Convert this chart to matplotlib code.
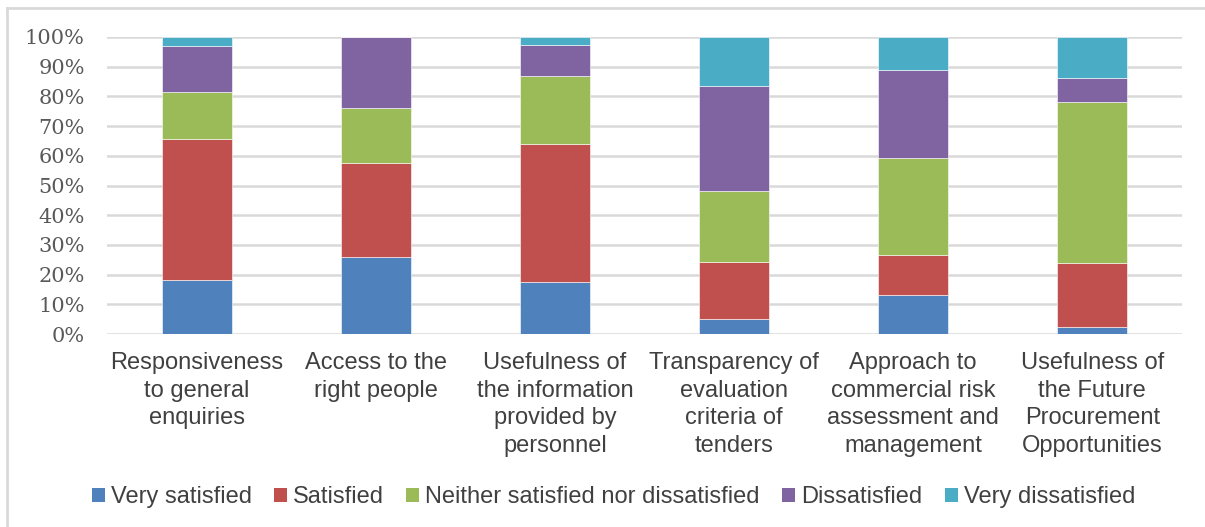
import numpy as np
import matplotlib
matplotlib.use("Agg")
import matplotlib.pyplot as plt
from matplotlib.lines import Line2D
from matplotlib.patches import Patch
from matplotlib.ticker import PercentFormatter

# Категории и доли ответов (в процентах)
categories = [
    "Responsiveness\nto general\nenquiries",
    "Access to the\nright people",
    "Usefulness of\nthe information\nprovided by\npersonnel",
    "Transparency of\nevaluation\ncriteria of\ntenders",
    "Approach to\ncommercial risk\nassessment and\nmanagement",
    "Usefulness of\nthe Future\nProcurement\nOpportunities",
]
series_names = [
    "Very satisfied",
    "Satisfied",
    "Neither satisfied nor dissatisfied",
    "Dissatisfied",
    "Very dissatisfied",
]
very_satisfied = [18.2, 26.1, 17.6, 5.0, 13.1, 2.4]
satisfied = [47.3, 31.4, 46.2, 19.2, 13.5, 21.4]
neither = [15.9, 18.7, 23.2, 24.1, 32.5, 54.3]
dissatisfied = [15.6, 23.8, 10.2, 35.2, 29.8, 8.1]
very_dissatisfied = [3.0, 0.0, 2.8, 16.5, 11.1, 13.8]

colors = ["#4F81BD", "#C0504D", "#9BBB59", "#8064A2", "#4BACC6"]
series = [very_satisfied, satisfied, neither, dissatisfied, very_dissatisfied]

fig = plt.figure(figsize=(12.05, 5.27), dpi=100)
ax = fig.add_axes([0.0888, 0.366, 0.892, 0.564])

x = np.arange(len(categories))
bottom = np.zeros(len(categories))
for name, vals, col in zip(series_names, series, colors):
    vals = np.array(vals)
    ax.bar(x, vals, 0.39, bottom=bottom, color=col, label=name,
           edgecolor="white", linewidth=0.4, zorder=3)
    bottom += vals

ax.set_xlim(-0.5, len(categories) - 0.5)
ax.set_ylim(0, 100)
ax.set_yticks(np.arange(0, 101, 10))
ax.yaxis.set_major_formatter(PercentFormatter(decimals=0))
ax.grid(axis="y", color="#d9d9d9", linewidth=1.8, zorder=0)
for s in ["top", "right", "left", "bottom"]:
    ax.spines[s].set_visible(False)
ax.tick_params(axis="both", length=0)
ax.tick_params(axis="y", pad=16, labelsize=15, labelcolor="#595959")
for lab in ax.get_yticklabels():
    lab.set_family("DejaVu Serif")

ax.set_xticks(x)
ax.set_xticklabels(categories, fontsize=17, family="Liberation Sans",
                   color="#404040", linespacing=1.33)
ax.tick_params(axis="x", pad=13)

handles = [Patch(facecolor=c, edgecolor="none") for c in colors]
fig.legend(handles, series_names, loc="center", bbox_to_anchor=(0.509, 0.056),
           ncol=5, frameon=False, handlelength=0.55, handleheight=0.55,
           handletextpad=0.25, columnspacing=0.95,
           prop={"family": "Liberation Sans", "size": 17}, labelcolor="#404040")

# Рамка диаграммы (видны только левый и верхний края)
fig.add_artist(Line2D([7 / 1205, 7 / 1205], [0, 1 - 8 / 527],
                      transform=fig.transFigure, color="#d9d9d9", linewidth=2))
fig.add_artist(Line2D([7 / 1205, 1], [1 - 8 / 527, 1 - 8 / 527],
                      transform=fig.transFigure, color="#d9d9d9", linewidth=2))

fig.savefig("out.png", dpi=100, facecolor="white")
